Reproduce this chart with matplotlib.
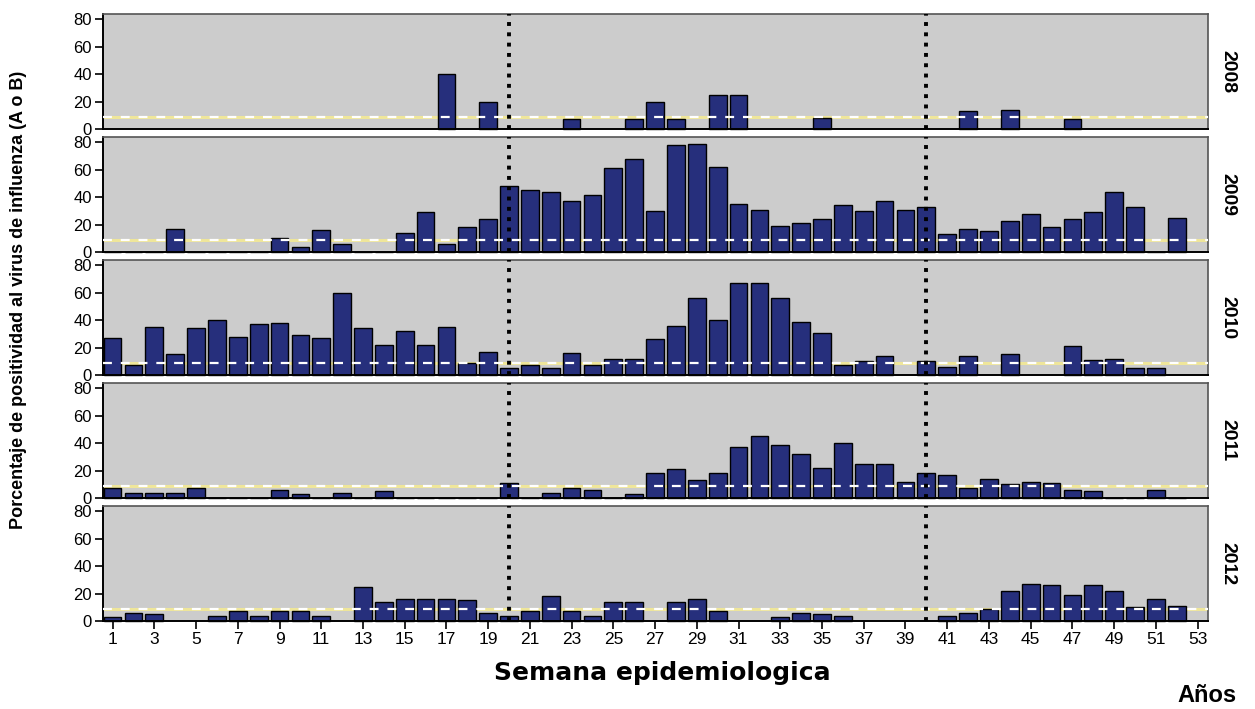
import numpy as np
import matplotlib.pyplot as plt
from matplotlib import font_manager

nan = np.nan

# Weekly influenza positivity (%) per epidemiological week, per year
weeks = np.arange(1, 54)
years = ["2008", "2009", "2010", "2011", "2012"]

y2008 = [nan] * 16 + [40, nan, 20, nan, nan, nan, 7, nan, nan, 7, 20, 7, nan, 25, 25,
                      nan, nan, nan, 8, nan, nan, nan, nan, nan, nan, 13, nan, 14,
                      nan, nan, 7, nan, nan, nan, nan, nan, nan]
y2009 = [0, 0, 0, 17, 0, 0, 0, 0, 10, 4, 16, 6, 0, 0, 14, 29, 6, 18, 24, 48,
         45, 44, 37, 42, 61, 68, 30, 78, 79, 62, 35, 31, 19, 21, 24, 34, 30, 37, 31, 33,
         13, 17, 15, 23, 28, 18, 24, 29, 44, 33, 0, 25, nan]
y2010 = [27, 7, 35, 15, 34, 40, 28, 37, 38, 29, 27, 60, 34, 22, 32, 22, 35, 9, 17, 5,
         7, 5, 16, 7, 12, 12, 26, 36, 56, 40, 67, 67, 56, 39, 31, 7, 10, 14, nan, 10,
         6, 14, nan, 15, nan, nan, 21, 11, 12, 5, 5, nan, nan]
y2011 = [7, 4, 4, 4, 7, 0, 0, 0, 6, 3, 0, 4, 0, 5, 0, 0, 0, 0, 0, 11,
         0, 4, 7, 6, 0, 3, 18, 21, 13, 18, 37, 45, 39, 32, 22, 40, 25, 25, 12, 18,
         17, 7, 14, 10, 12, 11, 6, 5, 0, 0, 6, 0, nan]
y2012 = [3, 6, 5, nan, nan, 4, 7, 4, 7, 7, 4, nan, 25, 14, 16, 16, 16, 15, 6, 4,
         7, 18, 7, 4, 14, 14, nan, 14, 16, 7, nan, nan, 3, 6, 5, 4, nan, nan, nan, nan,
         4, 6, 9, 22, 27, 26, 19, 26, 22, 10, 16, 11, nan]
series = [y2008, y2009, y2010, y2011, y2012]

threshold = 8.5
season_marks = [20, 40]

bar_color = "#262f7c"
panel_bg = "#cccccc"

# condensed face for the side labels if we have one
installed = {f.name for f in font_manager.fontManager.ttflist}
narrow = [n for n in ["Liberation Sans Narrow", "DejaVu Sans Condensed"] if n in installed]
have_narrow = len(narrow) > 0
narrow = narrow + ["Liberation Sans", "DejaVu Sans"]

plt.rcParams["font.family"] = ["Liberation Sans", "DejaVu Sans"]

fig = plt.figure(figsize=(12.55, 7.09), dpi=100)
W, H = 1255.0, 709.0
left_px, right_px = 103, 1208
panel_h, step, first_top = 115, 123, 14

for i, (year, vals) in enumerate(zip(years, series)):
    top_px = first_top + step * i
    ax = fig.add_axes([left_px / W, 1 - (top_px + panel_h) / H,
                       (right_px - left_px) / W, panel_h / H])
    ax.set_facecolor(panel_bg)

    # threshold line: pale yellow band under the bars, white dashes on top
    ax.axhline(threshold, color="#efe69a", lw=2.2, zorder=1)
    ax.bar(weeks, vals, width=0.85, color=bar_color, edgecolor="black",
           linewidth=1.0, zorder=2, clip_on=False)
    ax.axhline(threshold, color="white", lw=1.6, ls=(0, (4, 4)), zorder=3)
    for w in season_marks:
        ax.axvline(w, color="black", ls=":", lw=2.8, zorder=4)

    ax.set_xlim(0.54, 53.5)
    ax.set_ylim(0, 84)
    ax.set_yticks([0, 20, 40, 60, 80])
    ax.set_xticks(weeks[::2])
    ax.tick_params(axis="y", length=6, width=1.2, labelsize=12, pad=2)
    if i == len(years) - 1:
        ax.tick_params(axis="x", length=6, width=1.2, labelsize=12.5, pad=2)
    else:
        ax.tick_params(axis="x", length=0, labelbottom=False)

    for s in ["top", "right"]:
        ax.spines[s].set_color("#555555")
        ax.spines[s].set_linewidth(1.2)
    for s in ["left", "bottom"]:
        ax.spines[s].set_color("black")
        ax.spines[s].set_linewidth(1.4)

    ax.text(1.01, 0.5, year, transform=ax.transAxes, rotation=-90,
            ha="left", va="center", fontsize=17 if have_narrow else 14,
            fontweight="bold", family=narrow)

fig.text(19 / W, 1 - 300 / H, "Porcentaje de positividad al virus de influenza (A o B)",
         rotation=90, ha="center", va="center",
         fontsize=18 if have_narrow else 13, fontweight="bold", family=narrow)
fig.text(662 / W, 1 - 673 / H, "Semana epidemiologica", ha="center", va="center",
         fontsize=18, fontweight="bold", family=["DejaVu Sans"])
fig.text(1207 / W, 1 - 695 / H, "Años", ha="center", va="center",
         fontsize=17, fontweight="bold", family=narrow)

fig.savefig("out.png", dpi=100)
